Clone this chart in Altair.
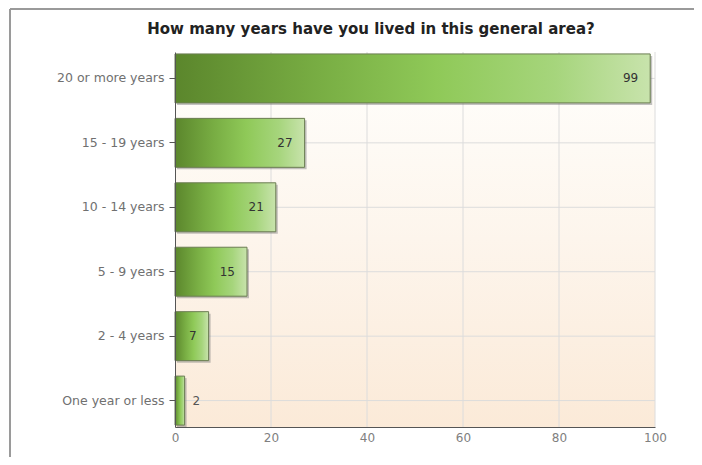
import altair as alt
import pandas as pd

categories = ["20 or more years", "15 - 19 years", "10 - 14 years",
              "5 - 9 years", "2 - 4 years", "One year or less"]
values = [99, 27, 21, 15, 7, 2]
x_ticks = [0, 20, 40, 60, 80, 100]
title_text = "How many years have you lived in this general area?"

df = pd.DataFrame({"cat": categories, "val": values})
df["inside"] = df["val"] >= 5
ticks_df = pd.DataFrame({"t": x_ticks})
one = pd.DataFrame({"a": [0]})

FONT = "DejaVu Sans"
W, H = 480, 375

xscale = alt.Scale(domain=[0, 100], nice=False, zero=True)
yscale = alt.Scale(domain=categories, paddingInner=0.24, paddingOuter=0.03)

xaxis = alt.Axis(values=x_ticks, grid=False, ticks=False, domainColor="#555555",
                 labelColor="#808080", labelFont=FONT, labelFontSize=12,
                 labelPadding=5, labelFlush=False, zindex=1, title=None)
yaxis = alt.Axis(grid=False, ticks=True, tickSize=6, tickColor="#555555",
                 domainColor="#555555", labelColor="#707070", labelFont=FONT,
                 labelFontSize=12.5, labelPadding=5, zindex=1, title=None)


def X(field="val:Q"):
    return alt.X(field, scale=xscale, axis=xaxis)


def Y(**kw):
    return alt.Y("cat:N", scale=yscale, sort=categories, axis=yaxis, **kw)


bg = alt.Chart(one).mark_rect(
    color=alt.Gradient(
        gradient="linear", x1=0, x2=0, y1=0, y2=1,
        stops=[alt.GradientStop(color="#fffffd", offset=0),
               alt.GradientStop(color="#fdf5ec", offset=0.5),
               alt.GradientStop(color="#fbead8", offset=1)]),
).encode(x=alt.value(0), x2=alt.value("width"), y=alt.value(0), y2=alt.value("height"))

vgrid = alt.Chart(ticks_df).transform_filter("datum.t > 0").mark_rule(
    color="#dcdcdc", strokeWidth=1
).encode(x=X("t:Q"))

hgrid = alt.Chart(df).mark_rule(color="#dcdcdc", strokeWidth=1).encode(
    y=Y(bandPosition=0.5)
)

shadow = alt.Chart(df).mark_bar(
    color="#7a7a7a", opacity=0.45, xOffset=2, yOffset=2
).encode(x=X(), y=Y())

bars = alt.Chart(df).mark_bar(
    color=alt.Gradient(
        gradient="linear", x1=0, x2=1, y1=0, y2=0,
        stops=[alt.GradientStop(color="#5b862c", offset=0),
               alt.GradientStop(color="#78ad43", offset=0.3),
               alt.GradientStop(color="#8fc958", offset=0.55),
               alt.GradientStop(color="#a6d57c", offset=0.8),
               alt.GradientStop(color="#c8e3ac", offset=1)]),
    stroke="#6b7d52", strokeWidth=1,
).encode(x=X(), y=Y())

txt_in = alt.Chart(df).transform_filter("datum.inside").mark_text(
    align="right", baseline="middle", dx=-12, font=FONT, fontSize=12, color="#333333"
).encode(x=X(), y=Y(), text="val:Q")

txt_out = alt.Chart(df).transform_filter("!datum.inside").mark_text(
    align="left", baseline="middle", dx=8, font=FONT, fontSize=12, color="#555555"
).encode(x=X(), y=Y(), text="val:Q")

title = alt.Chart(one).mark_text(
    text=title_text, font=FONT, fontSize=15, fontWeight="bold", color="#222222",
    align="center", baseline="middle"
).encode(x=alt.value(196), y=alt.value(-23))

frame_left = alt.Chart(one).mark_rule(color="#9a9a9a", strokeWidth=2).encode(
    x=alt.value(-165), y=alt.value(-43), y2=alt.value(410)
)
frame_top = alt.Chart(one).mark_rule(color="#9a9a9a", strokeWidth=2).encode(
    x=alt.value(-165), x2=alt.value(525), y=alt.value(-43)
)

chart = alt.layer(
    bg, vgrid, hgrid, shadow, bars, txt_in, txt_out, title, frame_left, frame_top
).properties(
    width=W, height=H,
    autosize="none",
    padding={"left": 167, "top": 44, "right": 39, "bottom": 30},
).configure_view(stroke=None)

chart.save("out.html", embed_options={"renderer": "svg", "actions": False})
